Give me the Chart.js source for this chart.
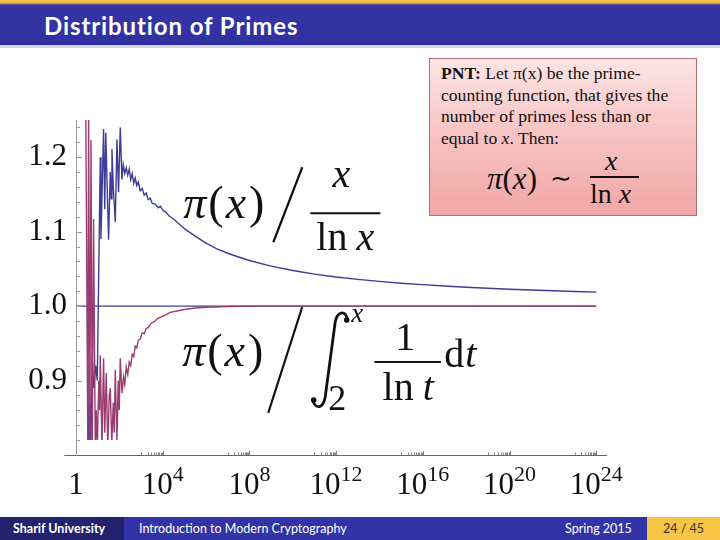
<!DOCTYPE html>
<html><head><meta charset="utf-8">
<script src="https://cdn.jsdelivr.net/npm/chart.js@4/dist/chart.umd.min.js"></script>
<style>
html,body{margin:0;padding:0;background:#fff;}
#slide{position:relative;width:720px;height:540px;overflow:hidden;background:#fff;}
#c{position:absolute;left:0;top:0;z-index:1;}
#topbar{position:absolute;left:0;top:0;width:720px;height:45px;z-index:2;
 background:linear-gradient(#f6c844 0px,#e9b24a 3px,#3535a6 5px,#3030a0 100%);}
#topline{position:absolute;left:0;top:45px;width:720px;height:3px;background:#d6d6e8;z-index:2;}
#title{position:absolute;left:44px;top:11px;color:#fff;font:bold 24px Lato,sans-serif;letter-spacing:0.9px;white-space:nowrap;z-index:3;}
#footer{position:absolute;left:0;top:517px;width:720px;height:23px;z-index:2;font:12.5px Lato,sans-serif;color:#fff;}
#footer div{position:absolute;top:0;height:23px;line-height:23px;white-space:nowrap;}
#f1{left:0;width:124px;background:#22226e;}
#f2{left:124px;width:523px;background:#3333a8;}
#f3{left:647px;width:73px;background:#f6c546;color:#333 !important;}
#pnt{position:absolute;left:429px;top:58px;width:266px;height:156px;border:1px solid #b86a6a;
 background:linear-gradient(#fde4e4,#f7c2c2 50%,#f1a6a6);z-index:3;font-family:'Liberation Serif',serif;color:#111;}
#pnt .txt{position:absolute;left:11px;top:4px;font-size:17.6px;line-height:21.7px;white-space:nowrap;}
#pnt span{position:absolute;white-space:nowrap;line-height:1;}
</style></head>
<body>
<div id="slide">
 <canvas id="c" width="720" height="540"></canvas>
 <div id="topbar"></div><div id="topline"></div>
 <div id="title">Distribution of Primes</div>
 <div id="pnt">
  <div class="txt"><b>PNT:</b> Let π(x) be the prime-<br>counting function, that gives the<br>number of primes less than or<br>equal to <i>x</i>. Then:</div>
  <span style="left:57px;top:104px;font-size:31px;"><i>π</i>(<i>x</i>)</span>
  <span style="left:120px;top:107px;font-size:26px;">∼</span>
  <span style="left:175px;top:88px;font-size:28px;"><i>x</i></span>
  <div style="position:absolute;left:160px;top:117px;width:49px;height:1.5px;background:#111;"></div>
  <span style="left:160px;top:121px;font-size:28px;">ln <i>x</i></span>
 </div>
 <div id="footer">
  <div id="f1"><span style="position:absolute;left:13px;font-weight:bold;">Sharif University</span></div>
  <div id="f2"><span style="position:absolute;left:15px;">Introduction to Modern Cryptography</span></div>
  <div style="left:565px;">Spring 2015</div>
  <div id="f3"><span style="position:absolute;left:16px;color:#333;">24 / 45</span></div>
 </div>
</div>
<script>
// x values are log10(x); y values are the ratios
const blueLogX = [0.567,0.613,0.682,0.751,0.820,0.912,0.982,1.051,1.120,1.152,1.272,1.327,1.373,1.502,1.581,1.627,1.659,1.719,1.813,1.889,1.963,2.041,2.120,2.180,2.249,2.318,2.387,2.456,2.525,2.594,2.664,2.733,2.802,2.871,2.963,3.055,3.147,3.240,3.332,3.424,3.516,3.654,3.793,3.90,4.0,4.15,4.3,4.5,5,5.5,6,6.5,7,7.5,8,9,10,11,12,13,14,15,16,17,18,19,20,21,22,23,24];
const blueRatio = [0.80,0.92,0.81,0.93,0.89,0.92,0.90,1.05,1.20,1.09,1.238,1.13,1.233,1.089,1.18,1.144,1.211,1.16,1.113,1.224,1.153,1.24,1.17,1.19,1.178,1.186,1.176,1.184,1.17,1.178,1.165,1.172,1.162,1.167,1.155,1.158,1.149,1.152,1.143,1.145,1.138,1.137,1.132,1.134,1.129,1.126,1.121,1.117,1.104,1.094,1.0845,1.077,1.071,1.066,1.0613,1.0537,1.0478,1.0430,1.0391,1.0359,1.0332,1.0308,1.0288,1.0270,1.0254,1.0240,1.0227,1.0216,1.0206,1.0197,1.0188];
const redLogX = [0.452,0.544,0.581,0.636,0.691,0.751,0.811,0.889,0.935,0.982,1.051,1.088,1.120,1.198,1.272,1.327,1.396,1.465,1.535,1.581,1.650,1.719,1.765,1.811,1.889,1.949,1.995,2.041,2.120,2.194,2.249,2.318,2.387,2.456,2.525,2.594,2.664,2.733,2.802,2.871,2.963,3.055,3.147,3.240,3.332,3.470,3.608,3.747,3.885,4.115,4.346,4.668,4.991,5.498,6.005,7.018,8.0,24];
const redRatio = [1.26,0.81,1.26,0.81,1.223,0.81,1.117,0.81,0.86,0.81,0.90,0.86,0.934,0.81,0.93,0.83,0.91,0.81,0.88,0.89,0.815,0.87,0.83,0.914,0.82,0.90,0.86,0.93,0.883,0.905,0.895,0.918,0.908,0.925,0.92,0.935,0.932,0.946,0.944,0.954,0.956,0.964,0.963,0.970,0.971,0.977,0.979,0.983,0.985,0.988,0.9915,0.9935,0.9955,0.9975,0.9985,0.9995,1.0,1.0];
const refLogX = [0, 24];
const refRatio = [1, 1];
const yTickValues = [0.9, 1.0, 1.1, 1.2];
const xTickExponents = [0, 4, 8, 12, 16, 20, 24];
const xTickBase = ['1', '10', '10', '10', '10', '10', '10'];
const xTickSup = ['', '4', '8', '12', '16', '20', '24'];

const pts = (xs, ys) => xs.map((x, i) => ({x: x, y: ys[i]}));
const BLUE = '#3d3d99', RED = '#993d71';
const SERIF = "'Liberation Serif', 'DejaVu Serif', serif";

function seq(ctx, x, y, parts) {
  for (const p of parts) {
    ctx.font = p[1];
    ctx.fillText(p[0], x, y);
    x += ctx.measureText(p[0]).width + (p[2] || 0);
  }
  return x;
}
function seqWidth(ctx, parts) {
  let w = 0;
  for (const p of parts) { ctx.font = p[1]; w += ctx.measureText(p[0]).width + (p[2] || 0); }
  return w;
}

const overlay = {
  id: 'overlay',
  afterDraw(chart) {
    const ctx = chart.ctx, xs = chart.scales.x, ys = chart.scales.y, ca = chart.chartArea;
    ctx.save();
    const x0 = xs.getPixelForValue(0);
    const yb = ys.getPixelForValue(0.8);
    // x axis extension to the left
    ctx.strokeStyle = '#666'; ctx.lineWidth = 1;
    ctx.beginPath(); ctx.moveTo(xs.getPixelForValue(-0.54), Math.round(yb) + 0.5); ctx.lineTo(ca.left, Math.round(yb) + 0.5); ctx.stroke();
    // y ticks (inward)
    ctx.strokeStyle = '#999';
    for (let k = 41; k <= 62; k++) {
      const v = k / 50;
      const py = Math.round(ys.getPixelForValue(v)) + 0.5;
      const len = (k % 5 === 0) ? 6 : 4;
      ctx.beginPath(); ctx.moveTo(x0, py); ctx.lineTo(x0 + len, py); ctx.stroke();
    }
    // x ticks (upward)
    ctx.strokeStyle = '#888';
    xTickExponents.forEach(e => {
      if (e === 0) return;
      for (let m = 1; m <= 9; m++) {
        const px = Math.round(xs.getPixelForValue(e - 1 + Math.log10(m))) + 0.5;
        ctx.beginPath(); ctx.moveTo(px, yb); ctx.lineTo(px, yb - 2.5); ctx.stroke();
      }
      const px = Math.round(xs.getPixelForValue(e)) + 0.5;
      ctx.beginPath(); ctx.moveTo(px, yb); ctx.lineTo(px, yb - 4); ctx.stroke();
    });
    // x labels
    ctx.fillStyle = '#111'; ctx.textBaseline = 'alphabetic'; ctx.textAlign = 'left';
    const bigF = '31px ' + SERIF, supF = '22px ' + SERIF;
    xTickExponents.forEach((e, i) => {
      const cx = xs.getPixelForValue(e);
      const parts = [[xTickBase[i], bigF]];
      const w = seqWidth(ctx, parts) + (xTickSup[i] ? seqWidth(ctx, [[xTickSup[i], supF]]) : 0);
      let x = cx - w / 2;
      x = seq(ctx, x, 494, parts);
      if (xTickSup[i]) seq(ctx, x, 481, [[xTickSup[i], supF]]);
    });
    // annotation 1: pi(x) / (x / ln x)
    const it = (s) => 'italic ' + s + 'px ' + SERIF, rm = (s) => s + 'px ' + SERIF;
    const PIX = [['π', it(46), 2], ['(', rm(46), 2], ['x', it(46), 3], [')', rm(46)]];
    let ax = xs.getPixelForValue(4.95), ay = ys.getPixelForValue(1.118);
    seq(ctx, ax, ay, PIX);
    ctx.strokeStyle = '#111'; ctx.lineWidth = 2.2;
    ctx.beginPath(); ctx.moveTo(ax + 90, ay + 24); ctx.lineTo(ax + 119, ay - 51); ctx.stroke();
    ctx.font = it(40); let w = ctx.measureText('x').width;
    ctx.fillText('x', ax + 158 - w / 2, ay - 31);
    ctx.lineWidth = 2; ctx.beginPath(); ctx.moveTo(ax + 127, ay - 5); ctx.lineTo(ax + 197, ay - 5); ctx.stroke();
    w = seqWidth(ctx, [['ln', rm(40), 9], ['x', it(40)]]);
    seq(ctx, ax + 162 - w / 2, ay + 32, [['ln', rm(40), 9], ['x', it(40)]]);
    // annotation 2: pi(x) / integral_2^x 1/ln t dt
    ax = xs.getPixelForValue(4.9); ay = ys.getPixelForValue(0.9195);
    seq(ctx, ax, ay, PIX);
    ctx.lineWidth = 2.2;
    ctx.beginPath(); ctx.moveTo(ax + 86, ay + 47); ctx.lineTo(ax + 120, ay - 59); ctx.stroke();
    // integral sign
    ctx.lineWidth = 2.8; ctx.lineCap = 'round';
    ctx.beginPath();
    ctx.moveTo(ax + 165, ay - 47);
    ctx.bezierCurveTo(ax + 163, ay - 56, ax + 155, ay - 55, ax + 153, ay - 44);
    ctx.lineTo(ax + 143, ay + 31);
    ctx.bezierCurveTo(ax + 141, ay + 43, ax + 133, ay + 43, ax + 131, ay + 35);
    ctx.stroke();
    ctx.beginPath(); ctx.arc(ax + 164.5, ay - 46, 2.8, 0, Math.PI * 2); ctx.fill();
    ctx.beginPath(); ctx.arc(ax + 131.5, ay + 34, 2.8, 0, Math.PI * 2); ctx.fill();
    seq(ctx, ax + 169, ay - 44, [['x', it(27)]]);
    seq(ctx, ax + 146, ay + 44, [['2', rm(36)]]);
    ctx.font = rm(40); w = ctx.measureText('1').width;
    ctx.fillText('1', ax + 223 - w / 2, ay - 16);
    ctx.lineWidth = 2; ctx.beginPath(); ctx.moveTo(ax + 193, ay - 4); ctx.lineTo(ax + 258, ay - 4); ctx.stroke();
    w = seqWidth(ctx, [['ln', rm(40), 9], ['t', it(40)]]);
    seq(ctx, ax + 226 - w / 2, ay + 34, [['ln', rm(40), 9], ['t', it(40)]]);
    seq(ctx, ax + 262, ay + 1, [['d', rm(40), 1], ['t', it(40)]]);
    ctx.restore();
  }
};

new Chart(document.getElementById('c'), {
  type: 'line',
  data: {
    datasets: [
      {data: pts(redLogX, redRatio), borderColor: RED, borderWidth: 1.4, pointRadius: 0, tension: 0, clip: {left: 0, top: 0, right: 0, bottom: -15}, order: 0},
      {data: pts(blueLogX, blueRatio), borderColor: BLUE, borderWidth: 1.4, pointRadius: 0, tension: 0, clip: {left: 0, top: 0, right: 0, bottom: -15}, order: 1},
      {data: pts(refLogX, refRatio), borderColor: BLUE, borderWidth: 1.4, pointRadius: 0, tension: 0, order: 2}
    ]
  },
  options: {
    responsive: false, animation: false, devicePixelRatio: 1, events: [],
    layout: {padding: {left: 0, top: 120, right: 114, bottom: 85}},
    plugins: {legend: {display: false}, tooltip: {enabled: false}},
    scales: {
      x: {type: 'linear', min: 0, max: 24.45,
          grid: {display: false, drawTicks: false}, ticks: {display: false},
          border: {color: '#666', width: 1},
          afterFit(s) { s.height = 0; }},
      y: {type: 'linear', min: 0.8, max: 1.25,
          grid: {display: false, drawTicks: false},
          border: {color: '#9a9a9a', width: 1},
          afterBuildTicks(s) { s.ticks = yTickValues.map(v => ({value: v})); },
          afterFit(s) { s.width = 76; },
          ticks: {padding: 9, color: '#111', font: {family: "'Liberation Serif'", size: 31},
                  callback: (v) => Number(v).toFixed(1)}}
    }
  },
  plugins: [overlay]
});
</script>
</body></html>
